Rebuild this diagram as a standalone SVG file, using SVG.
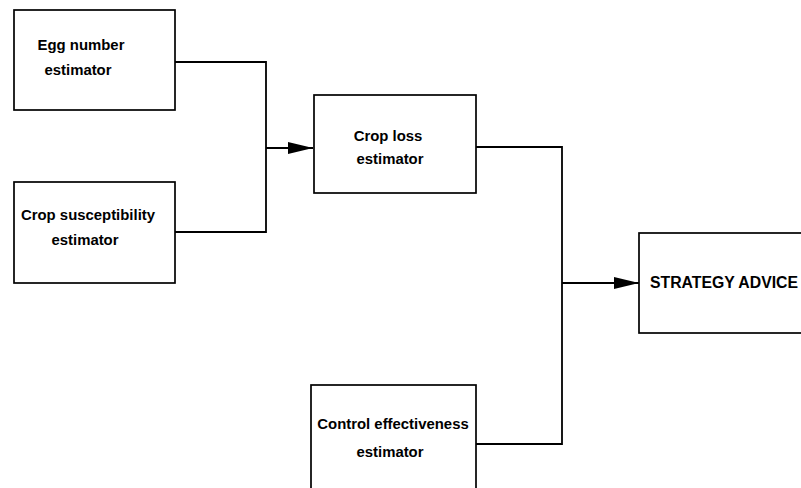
<svg xmlns="http://www.w3.org/2000/svg" width="801" height="488" viewBox="0 0 801 488">
<style>
.box{fill:#fff;stroke:#000;stroke-width:1.7}
.lbl{font-family:"Liberation Sans",Arial,Helvetica,sans-serif;font-weight:bold;font-size:14.9px;fill:#000;text-anchor:middle}
.conn{fill:none;stroke:#000;stroke-width:1.8}
</style>
<defs>
<marker id="arr" markerWidth="26" markerHeight="14" refX="25" refY="7" orient="auto" markerUnits="userSpaceOnUse">
<path d="M0,1 L25,7 L0,13 Z" fill="#000"/>
</marker>
</defs>
<rect width="801" height="488" fill="#fff"/>
<g id="connectors">
<polyline class="conn" points="175,62 266,62 266,232 175,232"/>
<line class="conn" x1="266" y1="148" x2="313" y2="148" marker-end="url(#arr)"/>
<polyline class="conn" points="476,147 562,147 562,444 476,444"/>
<line class="conn" x1="562" y1="283" x2="639" y2="283" marker-end="url(#arr)"/>
</g>
<g id="egg">
<rect class="box" x="14" y="10" width="161" height="100"/>
<text class="lbl" x="81" y="50">Egg number</text>
<text class="lbl" x="78" y="75">estimator</text>
</g>
<g id="susceptibility">
<rect class="box" x="14" y="182" width="161" height="101"/>
<text class="lbl" x="88" y="220">Crop susceptibility</text>
<text class="lbl" x="85" y="245">estimator</text>
</g>
<g id="croploss">
<rect class="box" x="314" y="95" width="162" height="98"/>
<text class="lbl" x="388" y="141">Crop loss</text>
<text class="lbl" x="390" y="164">estimator</text>
</g>
<g id="control">
<rect class="box" x="311" y="385" width="165" height="110"/>
<text class="lbl" x="393" y="429">Control effectiveness</text>
<text class="lbl" x="390" y="457">estimator</text>
</g>
<g id="strategy">
<rect class="box" x="639" y="233" width="180" height="100"/>
<text class="lbl" x="650" y="288" style="text-anchor:start;font-size:15.8px">STRATEGY ADVICE</text>
</g>
</svg>
